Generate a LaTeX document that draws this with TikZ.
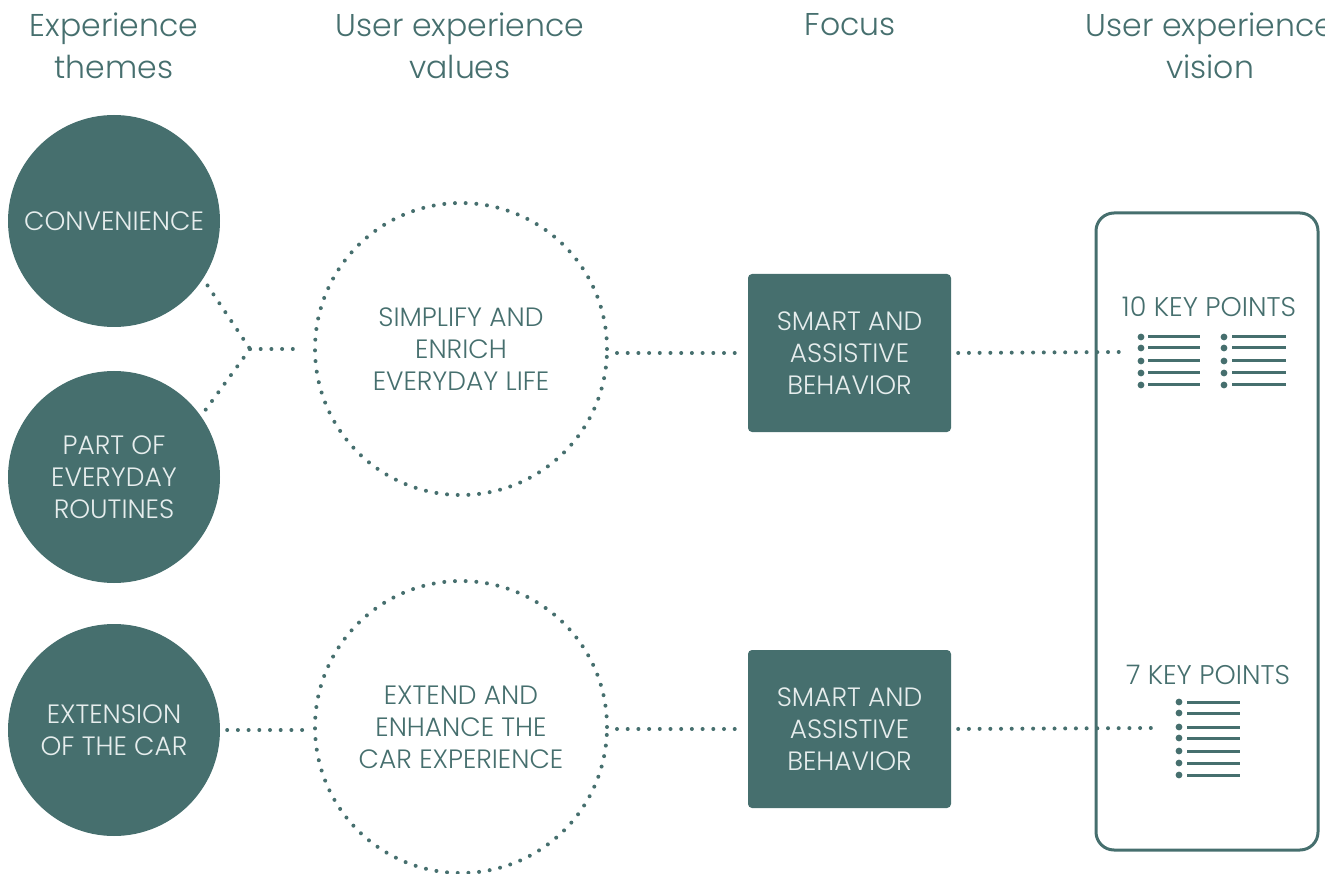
\documentclass[tikz,border=0pt]{standalone}
\usepackage{fontspec}
\setmainfont{Poppins}[UprightFont=* Light]
\definecolor{teal1}{HTML}{466F6E}
\definecolor{boxtxt}{HTML}{E6EDED}
\begin{document}
\begin{tikzpicture}[x=1pt,y=-1pt,
  dots/.style={draw=teal1, line width=4pt, line cap=round, dash pattern=on 0pt off 10.7pt},
  theme/.style={circle, fill=teal1, minimum size=212pt, inner sep=0pt, text=boxtxt, align=center, font=\fontsize{26.5}{32}\selectfont},
  valuecirc/.style={circle, dots, minimum size=292pt, inner sep=0pt, text=teal1, align=center, font=\fontsize{26.5}{32}\selectfont},
  focusbox/.style={rectangle, rounded corners=4pt, fill=teal1, minimum width=203pt, minimum height=158pt, text=boxtxt, align=center, font=\fontsize{26.5}{32}\selectfont},
  head/.style={text=teal1, align=center, font=\fontsize{31.5}{42}\selectfont},
  kp/.style={text=teal1, font=\fontsize{27}{30}\selectfont},
  listline/.style={draw=teal1, line width=3pt},
]
\useasboundingbox (0,0) rectangle (1325,874);
% headers
\node[head] (h1) at (114,46) {Experience\\themes};
\node[head] (h2) at (460,46) {User experience\\values};
\node[head] (h3) at (850,25) {Focus};
\node[head] (h4) at (1210,46) {User experience\\vision};
% themes
\node[theme] (conv) at (114,221) {CONVENIENCE};
\node[theme] (part) at (114,477) {PART OF\\EVERYDAY\\ROUTINES};
\node[theme] (ext) at (114,730) {EXTENSION\\OF THE CAR};
% values
\node[valuecirc] (simp) at (461,349) {SIMPLIFY AND\\ENRICH\\EVERYDAY LIFE};
\node[valuecirc] (extend) at (461,727) {EXTEND AND\\ENHANCE THE\\CAR EXPERIENCE};
% focus
\node[focusbox] (f1) at (849.5,353) {SMART AND\\ASSISTIVE\\BEHAVIOR};
\node[focusbox] (f2) at (849.5,729) {SMART AND\\ASSISTIVE\\BEHAVIOR};
% vision
\node[draw=teal1, line width=3pt, rounded corners=18pt, minimum width=222pt, minimum height=637pt, inner sep=0pt] (vision) at (1207,531.5) {};
\node[kp] (kp10) at (1209,307) {10 KEY POINTS};
\node[kp] (kp7) at (1208,675) {7 KEY POINTS};
\coordinate (l10) at (1119,352);
\coordinate (l7) at (1151,728);
\foreach \yy in {337,348,361,373,385}{
  \fill[teal1] (1141,\yy) circle (3.4pt);
  \draw[listline] (1148,\yy) -- (1200,\yy);
  \fill[teal1] (1224,\yy) circle (3.4pt);
  \draw[listline] (1232,\yy) -- (1286,\yy);
}
\foreach \yy in {702,713,727,738,751,763,775}{
  \fill[teal1] (1179,\yy) circle (3.4pt);
  \draw[listline] (1187,\yy) -- (1240,\yy);
}
% connectors
\coordinate (j) at (250,349);
\draw[dots, shorten <=8pt] (conv.-33.5) -- (j);
\draw[dots, shorten <=8pt] (part.35) -- (j);
\draw[dots, shorten >=10pt] (j) -- (simp.west);
\draw[dots, shorten <=8pt, shorten >=4pt] (f1.west -| simp.east) -- (f1.west);
\draw[dots, shorten <=7pt] (f1.east) -- (l10);
\draw[dots, shorten <=7pt, shorten >=10pt] (ext.east) -- (ext.east -| extend.west);
\draw[dots, shorten <=8pt, shorten >=4pt] (f2.west -| extend.east) -- (f2.west);
\draw[dots, shorten <=7pt] (f2.east) -- (l7);
\end{tikzpicture}
\end{document}
